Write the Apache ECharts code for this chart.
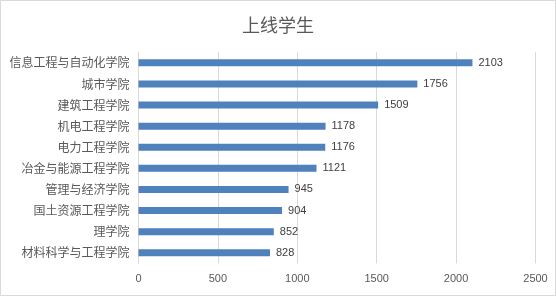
<!DOCTYPE html>
<html><head><meta charset="utf-8">
<script src="https://cdn.jsdelivr.net/npm/echarts@6/dist/echarts.min.js"></script>
<style>html,body{margin:0;padding:0;background:#fff}#c{width:556px;height:296px}</style>
</head><body><div id="c"></div>
<script>
const title = '上线学生';
const categories = ['信息工程与自动化学院','城市学院','建筑工程学院','机电工程学院','电力工程学院','冶金与能源工程学院','管理与经济学院','国土资源工程学院','理学院','材料科学与工程学院'];
const values = [2103,1756,1509,1178,1176,1121,945,904,852,828];
const xTicks = [0,500,1000,1500,2000,2500];

const chart = echarts.init(document.getElementById('c'), null, {renderer:'canvas'});
chart.setOption({
  animation:false,
  title:{text:title,left:'center',top:11,textStyle:{fontFamily:'Noto Sans CJK SC',fontSize:18,fontWeight:'normal',color:'#595959'}},
  graphic:[{type:'rect',shape:{x:0.5,y:0.5,width:555,height:295},style:{fill:'none',stroke:'#d9d9d9',lineWidth:1},silent:true}],
  grid:{left:138.5,right:20.5,top:52.3,bottom:32.7,containLabel:false},
  xAxis:{type:'value',min:xTicks[0],max:xTicks[xTicks.length-1],interval:500,
    axisLine:{show:false},axisTick:{show:false},
    splitLine:{lineStyle:{color:'#d9d9d9',width:1}},
    axisLabel:{color:'#595959',fontSize:11,fontFamily:'Liberation Sans',margin:10,formatter:v=>String(v)}},
  yAxis:{type:'category',data:categories,inverse:true,
    axisLine:{show:true,lineStyle:{color:'#d9d9d9'}},axisTick:{show:false},
    axisLabel:{color:'#595959',fontSize:12,fontFamily:'Noto Sans CJK SC',margin:9}},
  series:[{type:'bar',data:values,barWidth:7,itemStyle:{color:'#4F81BD'},
    label:{show:true,position:'right',distance:6,color:'#404040',fontSize:11,fontFamily:'Liberation Sans',formatter:p=>String(p.value)}}]
});
</script></body></html>
